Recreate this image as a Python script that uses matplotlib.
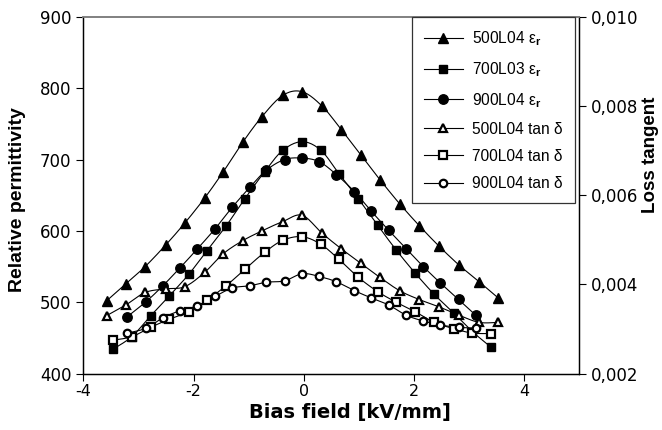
import numpy as np
import matplotlib
matplotlib.use("Agg")
import matplotlib.pyplot as plt
from matplotlib.ticker import FuncFormatter, MultipleLocator

plt.rcParams['font.family'] = ['Liberation Sans', 'DejaVu Sans']
plt.rcParams['axes.unicode_minus'] = False
plt.rcParams['mathtext.fontset'] = 'custom'
plt.rcParams['mathtext.rm'] = 'Liberation Sans'
plt.rcParams['mathtext.it'] = 'Liberation Sans:italic'
plt.rcParams['mathtext.bf'] = 'Liberation Sans:bold'

# ---- data ----
x_500 = [-3.58, -3.23, -2.88, -2.51, -2.16, -1.80, -1.46, -1.11, -0.76, -0.38, -0.03,
         0.33, 0.68, 1.03, 1.38, 1.74, 2.10, 2.45, 2.82, 3.18, 3.53]
x_700 = [-3.47, -3.12, -2.78, -2.44, -2.09, -1.76, -1.41, -1.07, -0.71, -0.38, -0.03,
         0.31, 0.64, 0.99, 1.34, 1.68, 2.02, 2.37, 2.72, 3.06, 3.40]
x_900 = [-3.20, -2.86, -2.56, -2.25, -1.93, -1.61, -1.30, -0.98, -0.68, -0.35, -0.03,
         0.28, 0.59, 0.92, 1.22, 1.54, 1.86, 2.17, 2.48, 2.81, 3.12]

eps_500L04 = [502, 526, 550, 580, 611, 646, 683, 724, 760, 790, 795,
              775, 742, 707, 672, 638, 607, 579, 552, 529, 506]
eps_700L03 = [434, 452, 481, 509, 539, 572, 607, 645, 683, 713, 725,
              713, 680, 645, 608, 573, 541, 511, 485, 459, 437]
eps_900L04 = [480, 501, 523, 548, 575, 603, 633, 661, 685, 700, 702,
              697, 679, 655, 628, 601, 575, 550, 527, 504, 482]

tan_500L04 = [0.00330, 0.00354, 0.00382, 0.00390, 0.00395, 0.00427, 0.00469, 0.00498, 0.00520, 0.00541, 0.00555,
              0.00515, 0.00480, 0.00448, 0.00416, 0.00386, 0.00366, 0.00350, 0.00331, 0.00315, 0.00315]
tan_700L04 = [0.00275, 0.00283, 0.00304, 0.00322, 0.00339, 0.00365, 0.00397, 0.00434, 0.00472, 0.00499, 0.00507,
              0.00490, 0.00456, 0.00416, 0.00384, 0.00360, 0.00339, 0.00315, 0.00301, 0.00291, 0.00290]
tan_900L04 = [0.00291, 0.00302, 0.00325, 0.00341, 0.00352, 0.00373, 0.00392, 0.00397, 0.00405, 0.00408, 0.00424,
              0.00418, 0.00406, 0.00386, 0.00370, 0.00354, 0.00331, 0.00318, 0.00309, 0.00304, 0.00302]

labels = ['500L04 ε$_\\mathbf{r}$', '700L03 ε$_\\mathbf{r}$', '900L04 ε$_\\mathbf{r}$',
          '500L04 tan δ', '700L04 tan δ', '900L04 tan δ']


def smooth(x, y, n=12):
    """Bezier smoothing through the points (like spreadsheet smoothed lines)."""
    x = np.asarray(x, float)
    y = np.asarray(y, float)
    P = np.column_stack([x, y])
    P = np.vstack([P[0], P, P[-1]])
    out = []
    t = np.linspace(0, 1, n, endpoint=False)[:, None]
    for i in range(1, len(P) - 2):
        p0, p1, p2, p3 = P[i - 1], P[i], P[i + 1], P[i + 2]
        c1 = p1 + (p2 - p0) / 6.0
        c2 = p2 - (p3 - p1) / 6.0
        seg = ((1 - t) ** 3) * p1 + 3 * ((1 - t) ** 2) * t * c1 + 3 * (1 - t) * t ** 2 * c2 + t ** 3 * p2
        out.append(seg)
    out.append(P[-2][None, :])
    out = np.vstack(out)
    return out[:, 0], out[:, 1]


fig = plt.figure(figsize=(6.62, 4.30), dpi=100)
ax = fig.add_axes([0.126, 0.131, 0.749, 0.830])
ax2 = ax.twinx()

lw = 0.8
handles = []


def draw(a, x, y, marker, ms, filled, label):
    sx, sy = smooth(x, y)
    a.plot(sx, sy, color='black', lw=lw, zorder=2)
    style = dict(marker=marker, ms=ms, mec='black')
    if filled:
        style.update(mfc='black')
    else:
        style.update(mfc='white', mew=1.6)
    a.plot(x, y, linestyle='none', zorder=3, **style)
    h, = a.plot([], [], color='black', lw=lw, label=label, **style)
    handles.append(h)


draw(ax, x_500, eps_500L04, '^', 7.4, True, labels[0])
draw(ax, x_700, eps_700L03, 's', 6.2, True, labels[1])
draw(ax, x_900, eps_900L04, 'o', 6.8, True, labels[2])
draw(ax2, x_500, tan_500L04, '^', 5.6, False, labels[3])
draw(ax2, x_700, tan_700L04, 's', 5.2, False, labels[4])
draw(ax2, x_900, tan_900L04, 'o', 5.4, False, labels[5])

ax.set_xlim(-4, 5)
ax.set_ylim(400, 900)
ax2.set_ylim(0.002, 0.010)
ax.xaxis.set_major_locator(MultipleLocator(2))
ax.yaxis.set_major_locator(MultipleLocator(100))
ax2.yaxis.set_major_locator(MultipleLocator(0.002))
ax2.yaxis.set_major_formatter(FuncFormatter(lambda v, p: f"{v:.3f}".replace('.', ',')))

for a in (ax, ax2):
    a.tick_params(direction='out', length=5, width=0.8, color='black', pad=3.5)
    for lab in a.get_xticklabels() + a.get_yticklabels():
        lab.set_fontfamily('DejaVu Sans')
        lab.set_fontsize(12)
    for s in a.spines.values():
        s.set_linewidth(0.9)
        s.set_color('black')
    a.spines['top'].set_color('#808080')
    a.spines['top'].set_linewidth(1.2)

ax.tick_params(axis='x', pad=2.5)
for lab in ax.get_xticklabels():
    lab.set_fontsize(11.5)

ax.set_xlabel('Bias field [kV/mm]', fontsize=14, fontweight='bold', family='DejaVu Sans')
ax.set_ylabel('Relative permittivity', fontsize=14, fontweight='bold')
ax2.set_ylabel('Loss tangent', fontsize=13.5, fontweight='bold', rotation=90)
ax.xaxis.set_label_coords(0.537, -0.083)
ax.yaxis.set_label_coords(-0.115, 0.487)
ax2.yaxis.set_label_coords(1.126, 0.614)

leg = ax2.legend(handles=handles, loc='upper right', bbox_to_anchor=(0.992, 1.0),
                 borderaxespad=0, fancybox=False, edgecolor='#333333', framealpha=1,
                 prop={'family': 'Liberation Sans', 'size': 11.2},
                 handlelength=2.5, handletextpad=0.6, borderpad=0.8,
                 labelspacing=0.78)
leg.get_frame().set_linewidth(0.9)

fig.savefig('out.png', dpi=100)
